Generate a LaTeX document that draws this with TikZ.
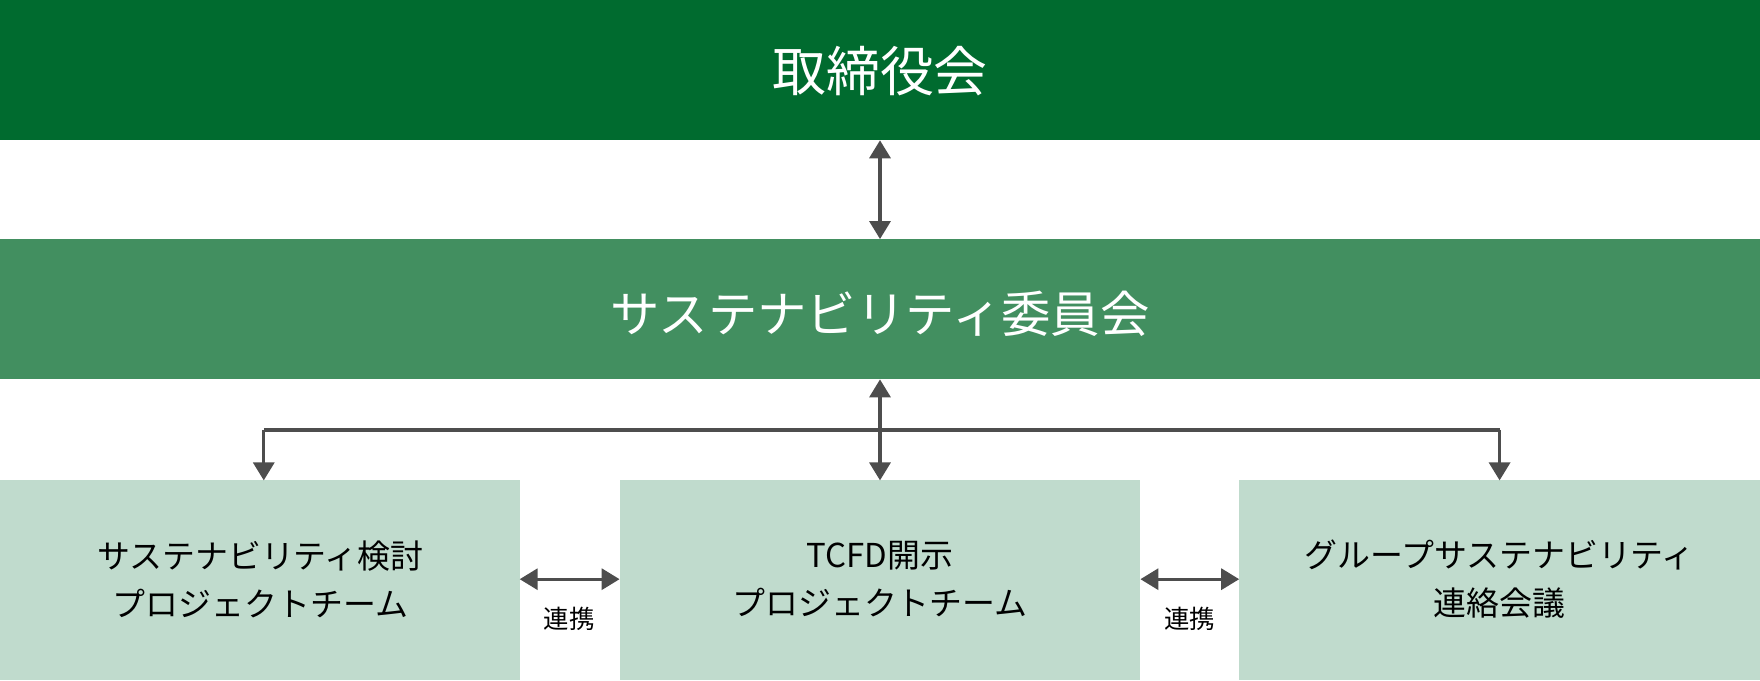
\documentclass[tikz,border=0pt]{standalone}
\usepackage{fontspec}
\newfontfamily\cjk{Noto Sans CJK JP}
\usetikzlibrary{arrows.meta}
\definecolor{dkg}{HTML}{006B2F}
\definecolor{mdg}{HTML}{428F60}
\definecolor{ltg}{HTML}{C0DBCD}
\definecolor{arr}{HTML}{4D4D4D}
\tikzset{
  box/.style={draw=none,inner sep=0pt},
  conn/.style={draw=arr,line width=2.2pt,{Triangle[length=12pt,width=14pt]}-{Triangle[length=12pt,width=14pt]}},
  conn1/.style={draw=arr,line width=2.2pt,-{Triangle[length=12pt,width=14pt]}},
  btxt/.style={text=black,font=\cjk\fontsize{22}{32}\selectfont,align=center}
}
\begin{document}
\begin{tikzpicture}[x=0.75pt,y=-0.75pt]
\useasboundingbox (0,0) rectangle (1568,606);
\fill[dkg] (0,0) rectangle (1568,125);
\fill[mdg] (0,213) rectangle (1568,338);
\fill[ltg] (0,428) rectangle (463,606);
\fill[ltg] (552,428) rectangle (1016,606);
\fill[ltg] (1104,428) rectangle (1568,606);
\node[box,text=white,font=\cjk\fontsize{36}{40}\selectfont] (top) at (784,63) {取締役会};
\node[box,text=white,font=\cjk\fontsize{33}{40}\selectfont] (mid) at (784,280) {サステナビリティ委員会};
\node[box,btxt] (b1) at (232,516) {サステナビリティ検討\\プロジェクトチーム};
\node[box,btxt] (b2) at (784,516) {TCFD開示\\プロジェクトチーム};
\node[box,btxt] (b3) at (1336,516) {グループサステナビリティ\\連絡会議};
\coordinate (t1) at (784,125); \coordinate (t2) at (784,213);
\coordinate (m1) at (784,338); \coordinate (m2) at (784,428);
\coordinate (hl) at (235,383); \coordinate (hr) at (1336,383);
\coordinate (l1) at (235,428); \coordinate (r1) at (1336,428);
\draw[conn] (t1) -- (t2);
\draw[conn] (m1) -- (m2);
\draw[draw=arr,line width=2.2pt] (hl) -- (hr);
\draw[conn1] (hl) -- (l1);
\draw[conn1] (hr) -- (r1);
\coordinate (a1) at (463,516); \coordinate (a2) at (552,516);
\coordinate (a3) at (1016,516); \coordinate (a4) at (1104,516);
\draw[conn] (a1) -- (a2);
\draw[conn] (a3) -- (a4);
\node[box,font=\cjk\fontsize{17}{20}\selectfont] (k1) at (507,551) {連携};
\node[box,font=\cjk\fontsize{17}{20}\selectfont] (k2) at (1060,551) {連携};
\end{tikzpicture}
\end{document}
